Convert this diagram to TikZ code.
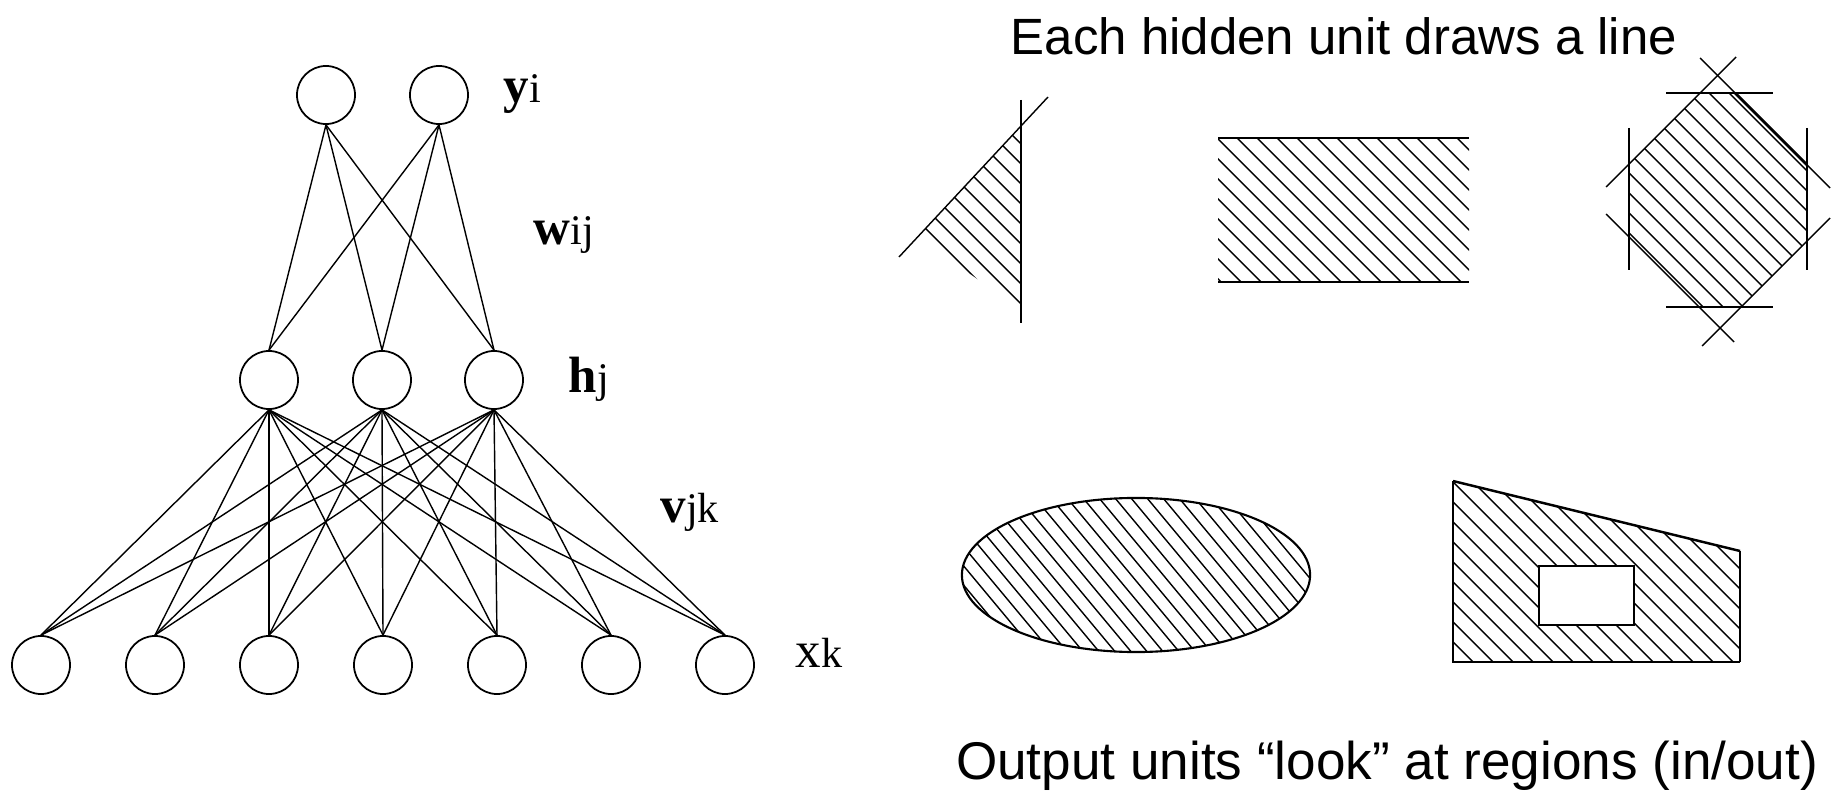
\documentclass[tikz,border=0pt]{standalone}
\usepackage{fontspec}
\setmainfont{Liberation Serif}
\newfontfamily\captionfont{Liberation Sans}
\usetikzlibrary{positioning}

\newcommand{\lsub}[1]{{\fontsize{12}{14}\selectfont #1}}

\begin{document}
\begin{tikzpicture}[x=0.01cm, y=-0.01cm,
    unit/.style={draw, circle, line width=0.5pt, minimum size=0.58cm, inner sep=0pt},
    wire/.style={line width=0.4pt},
    layerlbl/.style={anchor=base west, inner sep=0pt, font=\fontsize{14.5}{16}\selectfont},
    hatch/.style={line width=0.4pt},
    rim/.style={line width=0.8pt},
    caption/.style={anchor=base, inner sep=0pt, font=\captionfont}]
    \useasboundingbox (0,0) rectangle (1832,791);

    % output layer
    \node[unit] (y1) at (326,95) {};
    \node[unit] (y2) at (439,95) {};
    % hidden layer
    \node[unit] (h1) at (269,380) {};
    \node[unit] (h2) at (382,380) {};
    \node[unit] (h3) at (494,380) {};
    % input layer
    \foreach \k in {1,...,7}
        \node[unit] (x\k) at ({41+114*(\k-1)},665) {};

    \foreach \i in {1,2}
        \foreach \j in {1,2,3}
            \draw[wire] (y\i.south) -- (h\j.north);
    \foreach \j in {1,2,3}
        \foreach \k in {1,...,7}
            \draw[wire] (h\j.south) -- (x\k.north);

    \node[layerlbl] (ylbl) at (503,103) {\textbf{y}\lsub{i}};
    \node[layerlbl] (wlbl) at (533,245) {\textbf{w}\lsub{ij}};
    \node[layerlbl] (hlbl) at (568,393) {\textbf{h}\lsub{j}};
    \node[layerlbl] (vlbl) at (660,522) {\textbf{v}\lsub{jk}};
    \node[layerlbl] (xlbl) at (795,668) {x\lsub{k}};

    \node[caption, font=\captionfont\fontsize{14.5}{17}\selectfont] (top) at (1344,55) {Each hidden unit draws a line};
    \node[caption, font=\captionfont\fontsize{15.1}{17}\selectfont] (bottom) at (1387,779) {Output units “look” at regions (in/out)};

    % one line: half-plane cut by a second line
    \begin{scope}
        \clip (1021,126) -- (918,237) -- (1021,310) -- cycle;
        \foreach \c in {597,617,...,917}
            \draw[hatch] (\c,0) -- ++(800,800);
    \end{scope}
    \draw[wire] (899,257) -- (1048,97);
    \draw[rim] (1021,100) -- (1021,323);

    % two parallel lines: a band
    \begin{scope}
        \clip (1218,138) rectangle (1469,282);
        \foreach \c in {919,939,...,1339}
            \draw[hatch] (\c,0) -- ++(800,800);
    \end{scope}
    \draw[rim] (1218,138) -- (1469,138);
    \draw[rim] (1218,282) -- (1469,282);

    % eight lines: octagon
    \begin{scope}
        \clip (1700,93) -- (1735,93) -- (1807,165) -- (1807,241) -- (1741,307)
            -- (1699,307) -- (1629,237) -- (1629,164) -- cycle;
        \foreach \c in {1316,1336,...,1716}
            \draw[hatch] (\c,0) -- ++(800,800);
    \end{scope}
    \draw[rim] (1666,93) -- (1773,93);
    \draw[rim] (1666,307) -- (1773,307);
    \draw[wire] (1629,128) -- (1629,270);
    \draw[wire] (1807,128) -- (1807,270);
    \draw[wire] (1606,187) -- (1736,57);
    \draw[wire] (1700,58) -- (1830,188);
    \draw[wire] (1830,218) -- (1702,346);
    \draw[wire] (1606,214) -- (1734,342);
    \draw[rim] (1735,93) -- (1807,165);

    % blob region
    \begin{scope}
        \clip (1136,575) ellipse [x radius=1.74cm, y radius=0.77cm];
        \foreach \c in {412,428,...,900}
            \draw[hatch] (\c,0) -- ++(700,840);
    \end{scope}
    \draw[line width=0.6pt] (1136,575) ellipse [x radius=1.74cm, y radius=0.77cm];

    % region with a hole
    \begin{scope}
        \clip (1453,481) -- (1453,662) -- (1740,662) -- (1740,551) -- cycle;
        \foreach \c in {771,791,...,1271}
            \draw[hatch] (\c,0) -- ++(800,800);
    \end{scope}
    \draw[line width=0.6pt, fill=white] (1539,566) rectangle (1634,625);
    \draw[rim] (1453,481) -- (1453,662) -- (1740,662);
    \draw[line width=0.6pt] (1740,662) -- (1740,551);
    \draw[line width=0.7pt] (1453,481) -- (1740,551);
\end{tikzpicture}
\end{document}
